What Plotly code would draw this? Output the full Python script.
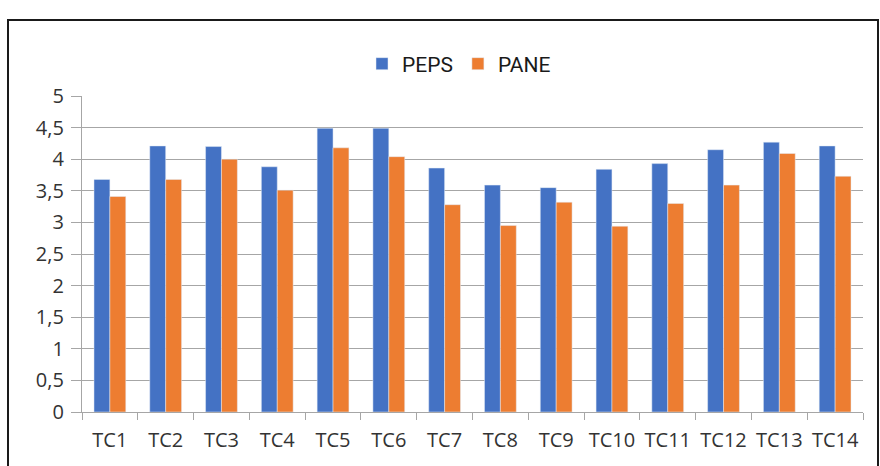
import plotly.graph_objects as go

categories = ["TC1", "TC2", "TC3", "TC4", "TC5", "TC6", "TC7", "TC8", "TC9", "TC10", "TC11", "TC12", "TC13", "TC14"]
peps = [3.68, 4.21, 4.20, 3.88, 4.49, 4.49, 3.86, 3.59, 3.55, 3.84, 3.93, 4.15, 4.27, 4.21]
pane = [3.41, 3.68, 4.00, 3.51, 4.18, 4.04, 3.28, 2.95, 3.32, 2.94, 3.30, 3.59, 4.09, 3.73]
ytick_vals = [0, 0.5, 1, 1.5, 2, 2.5, 3, 3.5, 4, 4.5, 5]
ytick_text = ["0", "0,5", "1", "1,5", "2", "2,5", "3", "3,5", "4", "4,5", "5"]

fig = go.Figure()
fig.add_trace(go.Bar(name="PEPS", x=categories, y=peps, marker_color="#4472C4"))
fig.add_trace(go.Bar(name="PANE", x=categories, y=pane, marker_color="#ED7D31"))

L, R, T, B = 82, 17, 96, 54
W, H = 880, 466
pw, ph = W - L - R, H - T - B

def px2paper_x(px):
    return (px - L) / pw

def px2paper_y(py):
    return (H - B - py) / ph

fig.update_layout(
    width=W, height=H,
    margin=dict(l=L, r=R, t=T, b=B, autoexpand=False),
    paper_bgcolor="white", plot_bgcolor="white",
    barmode="group", bargap=0.43, bargroupgap=0,
    font=dict(family="Open Sans, DejaVu Sans, sans-serif", color="#333333"),
    legend=dict(orientation="h", x=px2paper_x(459), xanchor="center", y=px2paper_y(64), yanchor="middle",
                font=dict(size=21, color="#1a1a1a",
                          family="Liberation Sans Narrow, Roboto, sans-serif"),
                itemwidth=30, tracegroupgap=0),
    xaxis=dict(showline=True, linecolor="#A6A6A6", linewidth=1.3, ticks="outside",
               tickson="boundaries", ticklen=7, tickcolor="#A6A6A6", tickwidth=1.3,
               tickfont=dict(size=20), tickangle=0, automargin=False,
               ticklabelstandoff=10, showgrid=False),
    yaxis=dict(range=[0, 5], tickvals=ytick_vals, ticktext=ytick_text, showline=True,
               linecolor="#A6A6A6", linewidth=1.3, showgrid=True, gridcolor="#A6A6A6",
               gridwidth=1.3, ticks="outside", ticklen=10, tickcolor="#A6A6A6", tickwidth=1.3,
               tickfont=dict(size=20), ticklabelstandoff=3, zeroline=False, automargin=False),
    shapes=[dict(type="rect", xref="paper", yref="paper",
                 x0=px2paper_x(8), x1=px2paper_x(878), y0=px2paper_y(480), y1=px2paper_y(20),
                 line=dict(color="#1a1a1a", width=2), fillcolor="rgba(0,0,0,0)", layer="below")],
)

fig.write_html("out.html", config={"displayModeBar": False},
               post_script="document.body.style.margin='0px';document.body.style.padding='0px';")
